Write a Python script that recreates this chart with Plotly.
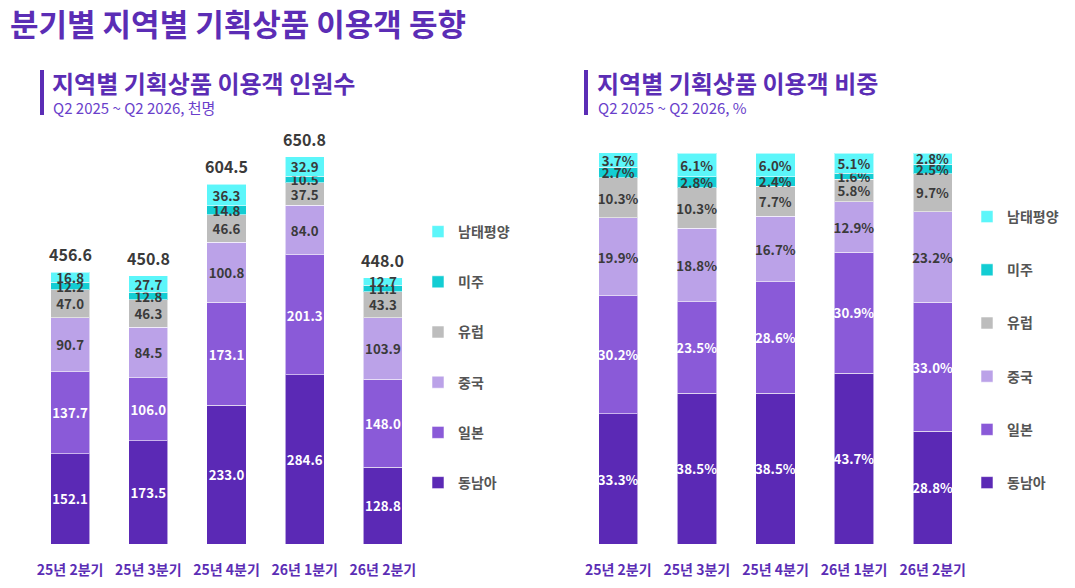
import plotly.graph_objects as go

# 분기별 지역별 기획상품 이용객 동향

quarters = ["25년 2분기", "25년 3분기", "25년 4분기", "26년 1분기", "26년 2분기"]
regions = ["동남아", "일본", "중국", "유럽", "미주", "남태평양"]

# 인원수 (천명)
sea = [152.1, 173.5, 233.0, 284.6, 128.8]
japan = [137.7, 106.0, 173.1, 201.3, 148.0]
china = [90.7, 84.5, 100.8, 84.0, 103.9]
europe = [47.0, 46.3, 46.6, 37.5, 43.3]
america = [12.2, 12.8, 14.8, 10.5, 11.1]
pacific = [16.8, 27.7, 36.3, 32.9, 12.7]
totals = [456.6, 450.8, 604.5, 650.8, 448.0]

# 비중 (%)
sea_pct = [33.3, 38.5, 38.5, 43.7, 28.8]
japan_pct = [30.2, 23.5, 28.6, 30.9, 33.0]
china_pct = [19.9, 18.8, 16.7, 12.9, 23.2]
europe_pct = [10.3, 10.3, 7.7, 5.8, 9.7]
america_pct = [2.7, 2.8, 2.4, 1.6, 2.5]
pacific_pct = [3.7, 6.1, 6.0, 5.1, 2.8]

colors = ["#5B29B5", "#8A5AD8", "#BBA2E8", "#BDBDBD", "#13CDD3", "#5CF6FA"]
text_colors = ["white", "white", "#3a3a3a", "#3a3a3a", "#3a3a3a", "#3a3a3a"]

FONT = "Noto Sans CJK KR"
PURPLE = "#5B2DB5"
W, H = 1075, 588
OFF = 8  # page body margin


def px(x):
    return (x - OFF) / W


def py(y):
    return 1 - (y - OFF) / H


counts = [sea, japan, china, europe, america, pacific]
shares = [sea_pct, japan_pct, china_pct, europe_pct, america_pct, pacific_pct]

fig = go.Figure()

for i, name in enumerate(regions):
    fig.add_trace(go.Bar(
        x=quarters, y=counts[i], name=name, legendgroup=name, legend="legend",
        legendrank=len(regions) - i,
        marker=dict(color=colors[i], line=dict(color="rgba(255,255,255,0.55)", width=1)),
        text=[f"{v:.1f}" for v in counts[i]], textposition="inside",
        insidetextanchor="middle", textangle=0,
        textfont=dict(family=FONT, size=14, color=text_colors[i], weight="bold"),
        xaxis="x", yaxis="y", hoverinfo="skip"))

for i, name in enumerate(regions):
    fig.add_trace(go.Bar(
        x=quarters, y=shares[i], name=name, legendgroup=name + "2", legend="legend2",
        legendrank=len(regions) - i,
        marker=dict(color=colors[i], line=dict(color="rgba(255,255,255,0.55)", width=1)),
        text=[f"{v:.1f}%" for v in shares[i]], textposition="inside",
        insidetextanchor="middle", textangle=0,
        textfont=dict(family=FONT, size=14, color=text_colors[i], weight="bold"),
        xaxis="x2", yaxis="y2", hoverinfo="skip"))

annotations = []
for q, t in zip(quarters, totals):
    annotations.append(dict(x=q, y=t, xref="x", yref="y", text=f"{t:.1f}", showarrow=False,
                            yanchor="bottom", yshift=4,
                            font=dict(family=FONT, size=16, color="#3a3a3a", weight="bold")))

# titles
annotations.append(dict(x=px(8), y=py(22), xref="paper", yref="paper", xanchor="left", yanchor="middle",
                        text="<b>분기별 지역별 기획상품 이용객 동향</b>", showarrow=False,
                        font=dict(family=FONT, size=31, color=PURPLE)))
for x0, title, sub in [(50, "지역별 기획상품 이용객 인원수", "Q2 2025 ~ Q2 2026, 천명"),
                       (595, "지역별 기획상품 이용객 비중", "Q2 2025 ~ Q2 2026, %")]:
    annotations.append(dict(x=px(x0), y=py(83), xref="paper", yref="paper", xanchor="left", yanchor="middle",
                            text=f"<b>{title}</b>", showarrow=False,
                            font=dict(family=FONT, size=24, color=PURPLE)))
    annotations.append(dict(x=px(x0 + 1), y=py(107), xref="paper", yref="paper", xanchor="left", yanchor="middle",
                            text=sub, showarrow=False,
                            font=dict(family=FONT, size=15, color="#6A3FCB")))

shapes = [
    dict(type="rect", xref="paper", yref="paper", x0=px(40), x1=px(44), y0=py(115), y1=py(70),
         fillcolor=PURPLE, line=dict(width=0)),
    dict(type="rect", xref="paper", yref="paper", x0=px(584), x1=px(588), y0=py(115), y1=py(70),
         fillcolor=PURPLE, line=dict(width=0)),
]

axis_x = dict(showgrid=False, zeroline=False, showline=False, ticks="outside", ticklen=13,
              tickcolor="rgba(0,0,0,0)", tickfont=dict(family=FONT, size=14, color=PURPLE, weight="bold"),
              fixedrange=True)
axis_y = dict(showgrid=False, zeroline=False, showline=False, showticklabels=False, fixedrange=True)

legend_common = dict(font=dict(family=FONT, size=14, color="#555555", weight="bold"),
                     traceorder="grouped", xanchor="left", yanchor="top",
                     bgcolor="rgba(0,0,0,0)", itemclick=False, itemdoubleclick=False)

fig.update_layout(
    width=W, height=H,
    barmode="stack", bargap=0.5,
    paper_bgcolor="white", plot_bgcolor="white",
    margin=dict(l=0, r=0, t=0, b=0),
    xaxis=dict(domain=[px(31), px(422)], anchor="y", **axis_x),
    yaxis=dict(domain=[py(544), py(130)], range=[0, 696], anchor="x", **axis_y),
    xaxis2=dict(domain=[px(579), px(972)], anchor="y2", **axis_x),
    yaxis2=dict(domain=[py(544), py(130)], range=[0, 105.9], anchor="x2", **axis_y),
    legend=dict(x=px(418), y=py(216), tracegroupgap=29, **legend_common),
    legend2=dict(x=px(967), y=py(201), tracegroupgap=32, **legend_common),
    uniformtext=dict(minsize=13, mode="show"),
    annotations=annotations, shapes=shapes,
    font=dict(family=FONT),
)

fig.write_html("out.html")
